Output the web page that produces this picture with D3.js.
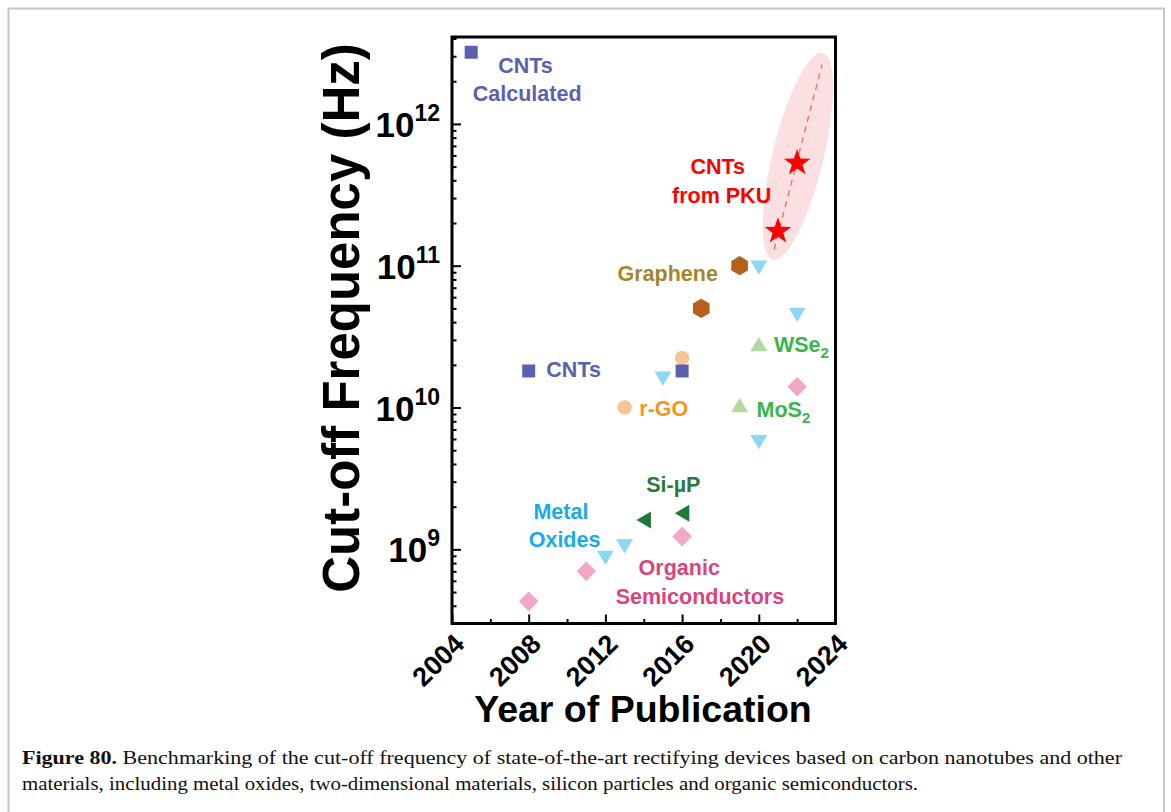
<!DOCTYPE html>
<html>
<head>
<meta charset="utf-8">
<script src="https://cdn.jsdelivr.net/npm/d3@7"></script>
<style>
  html, body { margin: 0; padding: 0; background: #fff; }
  svg { display: block; }
</style>
</head>
<body>
<svg id="chart" width="1171" height="812"></svg>
<script>
// ---- data: year of publication and cut-off frequency (Hz) per material ----
const cntYears = [2005, 2008, 2016];
const cntValues = [3.2e12, 1.81e10, 1.81e10];

const grapheneYears = [2017, 2019];
const grapheneValues = [5.0e10, 1.0e11];

const rgoYears = [2013, 2016];
const rgoValues = [1.0e10, 2.24e10];

const oxideYears = [2012, 2013, 2015, 2020, 2020, 2022];
const oxideValues = [8.7e8, 1.05e9, 1.6e10, 5.7e9, 9.7e10, 4.5e10];

const wse2Years = [2020];
const wse2Values = [2.8e10];

const mos2Years = [2019];
const mos2Values = [1.04e10];

const siYears = [2014, 2016];
const siValues = [1.61e9, 1.8e9];

const organicYears = [2008, 2011, 2016, 2022];
const organicValues = [4.3e8, 7.0e8, 1.23e9, 1.4e10];

const pkuYears = [2021, 2022];
const pkuValues = [1.75e11, 5.3e11];

// extrapolated trend of the PKU devices and the highlight around it
const trendYears = [2020.8, 2023.3];
const trendValues = [1.3e11, 2.62e12];
const haloYears = [2020.74, 2023.34];
const haloValues = [1.1e11, 3.16e12];

// axis ticks
const xMajorTicks = [2004, 2008, 2012, 2016, 2020, 2024];
const xMinorTicks = [2006, 2010, 2014, 2018, 2022];
const yDecades = [9, 10, 11, 12];

// annotation text: [year, value, anchor, text, subscript]
const labelCntCalc = [[2007.83, 2.59e12, "middle", "CNTs"], [2007.92, 1.64e12, "middle", "Calculated"]];
const labelPku = [[2017.86, 5.02e11, "middle", "CNTs"], [2018.06, 3.14e11, "middle", "from PKU"]];
const labelGraphene = [[2015.25, 8.9e10, "middle", "Graphene"]];
const labelCnt = [[2008.92, 1.85e10, "start", "CNTs"]];
const labelRgo = [[2013.77, 9.86e9, "start", "r-GO"]];
const labelWse2 = [[2020.79, 2.79e10, "start", "WSe", "2"]];
const labelMos2 = [[2019.88, 9.7e9, "start", "MoS", "2"]];
const labelSi = [[2015.54, 2.87e9, "middle", "Si-µP"]];
const labelOxide = [[2009.68, 1.86e9, "middle", "Metal"], [2009.87, 1.17e9, "middle", "Oxides"]];
const labelOrganic = [[2015.85, 7.43e8, "middle", "Organic"], [2016.93, 4.69e8, "middle", "Semiconductors"]];

// ---- layout ----
const svg = d3.select("#chart");
const plot = { left: 452, right: 835.5, top: 37, bottom: 623.5 };

const x = d3.scaleLinear().domain([2004, 2024]).range([plot.left, plot.right]);
const y = d3.scaleLog().domain([3e8, 4.1e12]).range([plot.bottom, plot.top]);

// page frame
svg.append("rect")
  .attr("x", 8.5).attr("y", 8.5).attr("width", 1155.5).attr("height", 840)
  .attr("fill", "none").attr("stroke", "#c6c6c6").attr("stroke-width", 2);

// ---- marker shapes (centred on the data point) ----
const shapes = {
  square: "M-6.5,-6.5h13v13h-13Z",
  triDown: "M-8.5,-7.2L8.5,-7.2L0,7.2Z",
  triUp: "M-8.5,7.2L8.5,7.2L0,-7.2Z",
  triLeft: "M7.2,-8.5L7.2,8.5L-7.2,0Z",
  diamond: "M0,-9.8L9.8,0L0,9.8L-9.8,0Z",
  hexagon: (() => {
    const r = 9.6;
    return "M" + d3.range(6).map(i => {
      const a = -Math.PI / 2 + i * Math.PI / 3;
      return [r * Math.cos(a), r * Math.sin(a)].join(",");
    }).join("L") + "Z";
  })(),
  star: (() => {
    const R = 14, r = 5.6;
    return "M" + d3.range(10).map(i => {
      const a = -Math.PI / 2 + i * Math.PI / 5;
      const rr = i % 2 ? r : R;
      return [rr * Math.cos(a), rr * Math.sin(a)].join(",");
    }).join("L") + "Z";
  })()
};

// ---- highlight ellipse and dashed trend ----
{
  const x1 = x(haloYears[0]), y1 = y(haloValues[0]);
  const x2 = x(haloYears[1]), y2 = y(haloValues[1]);
  const cx = (x1 + x2) / 2, cy = (y1 + y2) / 2;
  const rx = Math.hypot(x2 - x1, y2 - y1) / 2;
  const ang = Math.atan2(y2 - y1, x2 - x1) * 180 / Math.PI;
  svg.append("ellipse")
    .attr("cx", 0).attr("cy", 0).attr("rx", rx).attr("ry", 25.5)
    .attr("transform", `translate(${cx},${cy}) rotate(${ang})`)
    .attr("fill", "#fcdfe0");
}
svg.append("path")
  .datum(d3.zip(trendYears, trendValues))
  .attr("d", d3.line().x(d => x(d[0])).y(d => y(d[1])))
  .attr("fill", "none").attr("stroke", "#f0686b").attr("stroke-width", 1.3)
  .attr("stroke-dasharray", "6,5");

// ---- markers ----
function drawSeries(years, values, shape, color) {
  const g = svg.append("g");
  const pts = d3.zip(years, values);
  if (shape === "circle") {
    g.selectAll("circle").data(pts).join("circle")
      .attr("cx", d => x(d[0])).attr("cy", d => y(d[1])).attr("r", 7.2)
      .attr("fill", color);
  } else {
    g.selectAll("path").data(pts).join("path")
      .attr("d", shapes[shape])
      .attr("transform", d => `translate(${x(d[0])},${y(d[1])})`)
      .attr("fill", color);
  }
}

drawSeries(organicYears, organicValues, "diamond", "#f0a7c8");
drawSeries(oxideYears, oxideValues, "triDown", "#8dd7f6");
drawSeries(rgoYears, rgoValues, "circle", "#f6c594");
drawSeries(cntYears, cntValues, "square", "#5b61b1");
drawSeries(grapheneYears, grapheneValues, "hexagon", "#b6601b");
drawSeries(wse2Years, wse2Values, "triUp", "#b4d9a0");
drawSeries(mos2Years, mos2Values, "triUp", "#b4d9a0");
drawSeries(siYears, siValues, "triLeft", "#20793a");
drawSeries(pkuYears, pkuValues, "star", "#ff0000");

// ---- annotation labels ----
const labelFont = "'Liberation Sans', Arial, Helvetica, sans-serif";
function drawLabels(rows, color) {
  rows.forEach(r => {
    const t = svg.append("text")
      .attr("x", x(r[0])).attr("y", y(r[1])).attr("dy", "0.36em")
      .attr("text-anchor", r[2])
      .attr("font-family", labelFont).attr("font-weight", "bold")
      .attr("font-size", 21.5).attr("fill", color)
      .text(r[3]);
    if (r[4]) {
      t.append("tspan").attr("font-size", 15).attr("dy", 6).text(r[4]);
    }
  });
}
drawLabels(labelCntCalc, "#5b61b1");
drawLabels(labelPku, "#ff0000");
drawLabels(labelGraphene, "#a6852a");
drawLabels(labelCnt, "#5b61b1");
drawLabels(labelRgo, "#f7941d");
drawLabels(labelWse2, "#39b54a");
drawLabels(labelMos2, "#39b54a");
drawLabels(labelSi, "#2a7a3c");
drawLabels(labelOxide, "#1aaae8");
drawLabels(labelOrganic, "#d9437e");

// ---- axes (ticks point into the plot) ----
const yMinor = [];
for (let e = 8; e <= 12; e++) {
  for (let m = 2; m <= 9; m++) {
    const v = m * Math.pow(10, e);
    if (v > 3e8 && v < 4.1e12) yMinor.push(v);
  }
}
const yMajor = yDecades.map(e => Math.pow(10, e));

function styleAxis(g) {
  g.select(".domain").remove();
  g.selectAll(".tick line").attr("stroke", "#000").attr("stroke-width", 2);
}

svg.append("g").attr("transform", `translate(${plot.left},0)`)
  .call(d3.axisLeft(y).tickValues(yMinor).tickSize(-4.5).tickFormat(""))
  .call(styleAxis);
svg.append("g").attr("transform", `translate(${plot.left},0)`)
  .call(d3.axisLeft(y).tickValues(yMajor).tickSize(-9).tickFormat(""))
  .call(styleAxis);
svg.append("g").attr("transform", `translate(0,${plot.bottom})`)
  .call(d3.axisBottom(x).tickValues(xMinorTicks).tickSize(-4.5).tickFormat(""))
  .call(styleAxis);
svg.append("g").attr("transform", `translate(0,${plot.bottom})`)
  .call(d3.axisBottom(x).tickValues(xMajorTicks).tickSize(-9).tickFormat(""))
  .call(styleAxis);

// plot frame
svg.append("rect")
  .attr("x", plot.left).attr("y", plot.top)
  .attr("width", plot.right - plot.left).attr("height", plot.bottom - plot.top)
  .attr("fill", "none").attr("stroke", "#000").attr("stroke-width", 3);

// y tick labels: 10 with superscript exponent
yDecades.forEach(e => {
  const t = svg.append("text")
    .attr("x", plot.left - 12).attr("y", y(Math.pow(10, e)) + 13)
    .attr("text-anchor", "end")
    .attr("font-family", labelFont).attr("font-weight", "bold")
    .attr("font-size", 35).attr("fill", "#000");
  t.append("tspan").text("10");
  t.append("tspan").attr("font-size", 23).attr("dy", -16).text(String(e));
});

// x tick labels, rotated
xMajorTicks.forEach(v => {
  svg.append("text")
    .attr("transform", `translate(${x(v) + 14},${plot.bottom + 22}) rotate(-45)`)
    .attr("text-anchor", "end")
    .attr("font-family", labelFont).attr("font-weight", "bold")
    .attr("font-size", 27).attr("fill", "#000")
    .text(v);
});

// axis titles
svg.append("text")
  .attr("x", 643).attr("y", 722)
  .attr("text-anchor", "middle")
  .attr("font-family", labelFont).attr("font-weight", "bold")
  .attr("font-size", 37.5).attr("fill", "#000")
  .text("Year of Publication");

svg.append("text")
  .attr("transform", `translate(359,318) rotate(-90)`)
  .attr("text-anchor", "middle")
  .attr("font-family", labelFont).attr("font-weight", "bold")
  .attr("font-size", 51).attr("fill", "#000")
  .text("Cut-off Frequency (Hz)");

// caption
const capFont = "'Liberation Serif', 'Times New Roman', serif";
const cap1 = svg.append("text")
  .attr("x", 22).attr("y", 764)
  .attr("font-family", capFont).attr("font-size", 19).attr("fill", "#111")
  .attr("textLength", 1100).attr("lengthAdjust", "spacingAndGlyphs");
cap1.append("tspan").attr("font-weight", "bold").text("Figure 80.");
cap1.append("tspan").text(" Benchmarking of the cut-off frequency of state-of-the-art rectifying devices based on carbon nanotubes and other");
svg.append("text")
  .attr("x", 22).attr("y", 790)
  .attr("font-family", capFont).attr("font-size", 19).attr("fill", "#111")
  .attr("textLength", 896).attr("lengthAdjust", "spacingAndGlyphs")
  .text("materials, including metal oxides, two-dimensional materials, silicon particles and organic semiconductors.");
</script>
</body>
</html>
